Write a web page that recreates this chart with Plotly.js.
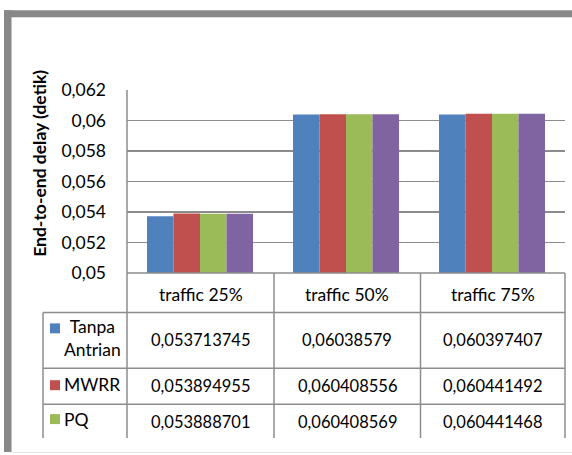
<!DOCTYPE html>
<html>
<head>
<meta charset="utf-8">
<script src="https://cdn.plot.ly/plotly-3.0.1.min.js"></script>
<style>html,body{margin:0;padding:0;background:#fff;}#chart{width:572px;height:455px;}</style>
</head>
<body>
<div id="chart"></div>
<script>
// ---- data ----
const categories = ['traffic 25%', 'traffic 50%', 'traffic 75%'];
const seriesNames = ['Tanpa Antrian', 'MWRR', 'PQ', 'Series 4'];
const tanpaAntrian = [0.053713745, 0.06038579, 0.060397407];
const mwrr = [0.053894955, 0.060408556, 0.060441492];
const pq = [0.053888701, 0.060408569, 0.060441468];
const series4 = [0.05389, 0.06041, 0.06044];
const yRange = [0.05, 0.062];
const yStep = 0.002;
const yTitle = 'End-to-end delay (detik)';

// ---- styles / geometry ----
const colors = ['#4F81BD', '#C0504D', '#9BBB59', '#8064A2'];
const W = 572, H = 455;
const L = 127, R = 565, T = 90, B = 273.5;
const FONT = 'Lato, "Open Sans", sans-serif';
const lineCol = '#8c8c8c';
const px = x => (x - L) / (R - L);
const py = y => (B - y) / (B - T);

const allSeries = [tanpaAntrian, mwrr, pq, series4];
const traces = allSeries.map((vals, i) => ({
  type: 'bar', x: categories, y: vals, name: seriesNames[i],
  marker: { color: colors[i], line: { width: 0 } },
  hoverinfo: 'x+y'
}));

const shapes = [];
const ann = [];
function hline(y, x0, x1, c, w) { shapes.push({ type: 'line', xref: 'paper', yref: 'paper', x0: px(x0), x1: px(x1), y0: py(y), y1: py(y), line: { color: c || lineCol, width: w || 1.5 } }); }
function vline(x, y0, y1, c, w) { shapes.push({ type: 'line', xref: 'paper', yref: 'paper', x0: px(x), x1: px(x), y0: py(y0), y1: py(y1), line: { color: c || lineCol, width: w || 1.5 } }); }
function rect(x0, y0, x1, y1, c) { shapes.push({ type: 'rect', xref: 'paper', yref: 'paper', x0: px(x0), x1: px(x1), y0: py(y0), y1: py(y1), fillcolor: c, line: { width: 0 } }); }

// frame
rect(4, 10, 11.5, 453, '#888888');
rect(4, 10, 572, 17, '#888888');
hline(453.5, 11.5, 572, '#e2e2e2', 1);

// table geometry
const colX = [L, 274, 420.5, R];
const rowY = [B, 313, 369, 405, 439];
const tableLeft = 43;
hline(rowY[0], L, R);
for (let r = 1; r < rowY.length - 1; r++) hline(rowY[r], tableLeft, R);
vline(L, T, rowY[4]);
colX.slice(1).forEach(x => vline(x, rowY[0], rowY[4]));
vline(tableLeft, rowY[1], rowY[4]);

const fmt = v => String(v).replace('.', ',');
const txtFont = { family: FONT, size: 16.5, color: '#000' };
function text(x, y, t, anchor, align, f) {
  ann.push({ xref: 'paper', yref: 'paper', x: px(x), y: py(y), text: t, showarrow: false,
    xanchor: anchor || 'center', yanchor: 'middle', align: align || 'center', font: f || txtFont });
}
// header
const hdrFont = { family: FONT, size: 17.5, color: '#000' };
categories.forEach((c, j) => text((colX[j] + colX[j + 1]) / 2, (rowY[0] + rowY[1]) / 2 + 1.5, c, 'center', 'center', hdrFont));
// rows (first three series visible)
const visibleRows = 3;
const rowCenters = [341, 387, 423];
for (let i = 0; i < visibleRows; i++) {
  allSeries[i].forEach((v, j) => text((colX[j] + colX[j + 1]) / 2, rowCenters[i], fmt(v)));
}
// legend keys + labels
rect(50, 324, 60, 334, colors[0]);
text(92, 339, seriesNames[0].replace(' ', '<br>'), 'center', 'center', hdrFont);
rect(50, 381, 60, 391, colors[1]);
text(62, 385, seriesNames[1], 'left', 'left', hdrFont);
rect(50, 415, 60, 425, colors[2]);
text(62, 420, seriesNames[2], 'left', 'left', hdrFont);

// y title
ann.push({ xref: 'paper', yref: 'paper', x: px(40), y: py(164), text: '<b>' + yTitle + '</b>', showarrow: false,
  textangle: -90, xanchor: 'center', yanchor: 'middle', font: { family: FONT, size: 17.5, color: '#000' } });

const layout = {
  width: W, height: H,
  margin: { l: L, r: W - R, t: T, b: H - B, pad: 0 },
  paper_bgcolor: '#fff', plot_bgcolor: '#fff',
  separators: ', ',
  showlegend: false,
  barmode: 'group', bargap: 0.274, bargroupgap: 0,
  font: { family: FONT, size: 16, color: '#000' },
  xaxis: { showticklabels: false, showgrid: false, zeroline: false, showline: false, ticks: '' },
  yaxis: { range: yRange, dtick: yStep, tick0: yRange[0], showgrid: true, gridcolor: lineCol, gridwidth: 1.5,
    zeroline: false, showline: false, ticks: '', ticklabelstandoff: 20,
    tickfont: { family: FONT, size: 17.5, color: '#000' } },
  shapes: shapes, annotations: ann
};
Plotly.newPlot('chart', traces, layout, { displayModeBar: false, staticPlot: true });
</script>
</body>
</html>
